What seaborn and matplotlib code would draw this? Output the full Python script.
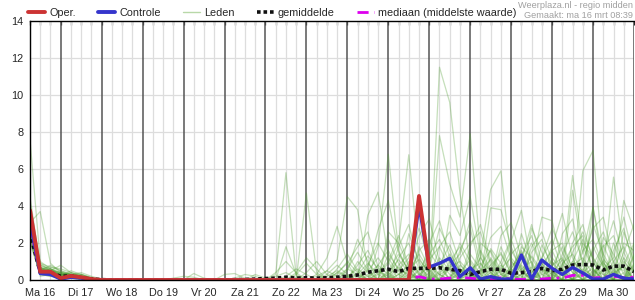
import numpy as np
import pandas as pd
import matplotlib
matplotlib.use("Agg")
import matplotlib.pyplot as plt
import seaborn as sns
from matplotlib.lines import Line2D

# ---------------- data (6-hourly steps, step 0 = ma 16 mrt 06:00) ----------------
N_STEPS = 60
DAY_LABELS = ["Ma 16", "Di 17", "Wo 18", "Do 19", "Vr 20", "Za 21", "Zo 22", "Ma 23",
              "Di 24", "Wo 25", "Do 26", "Vr 27", "Za 28", "Zo 29", "Ma 30"]

OPER = [3.77, 0.45, 0.45, 0.10, 0.22, 0.15, 0.05] + [0.0] * 30 + [0.0, 4.54, 0.68]

CONTROLE = ([3.2, 0.35, 0.30, 0.05, 0.15, 0.10, 0.02] + [0.0] * 31 + [4.04] +
            [0.70, 0.90, 1.17, 0.18, 0.66, 0.05, 0.18, 0.05, 0.05, 1.35, 0.05,
             1.08, 0.63, 0.30, 0.68, 0.38, 0.05, 0.05, 0.30, 0.10, 0.05])

MEAN = ([2.55, 0.40, 0.40, 0.20, 0.22, 0.12, 0.05, 0.02] + [0.0] * 12 +
        [0.02, 0.03, 0.05, 0.08, 0.10, 0.15, 0.10, 0.12, 0.10, 0.12, 0.15, 0.20,
         0.27, 0.42, 0.50, 0.58, 0.45, 0.63, 0.63, 0.63, 0.66, 0.58, 0.50, 0.30,
         0.45, 0.58, 0.58, 0.36, 0.40, 0.45, 0.63, 0.50, 0.58, 0.81, 0.84, 0.81,
         0.54, 0.75, 0.75, 0.45])

MEDIAN = ([2.9, 0.35, 0.35, 0.10, 0.15, 0.10, 0.03] + [0.0] * 30 +
          [0.05, 0.18, 0.05, 0.05, 0.10, 0.12, 0.10, 0.03, 0.05, 0.12, 0.05, 0.03,
           0.03, 0.05, 0.10, 0.10, 0.25, 0.25, 0.10, 0.15, 0.20, 0.12, 0.15])

# ensemble members: first 8 steps, then sparse {step: value} (other steps 0)
MEMBER_EARLY = [
    [7.6, 1.0, 0.6, 0.3, 0.2, 0.1, 0.05, 0], [3.1, 3.7, 0.9, 0.4, 0.3, 0.2, 0.1, 0],
    [4.0, 0.6, 0.5, 0.8, 0.4, 0.2, 0.1, 0], [2.2, 0.3, 0.2, 0.1, 0.2, 0.3, 0.1, 0],
    [2.8, 0.5, 0.8, 0.5, 0.3, 0.4, 0.2, 0.05], [3.0, 0.4, 0.3, 0.2, 0.5, 0.3, 0.1, 0],
    [3.5, 0.9, 0.7, 0.6, 0.4, 0.3, 0.15, 0], [2.5, 0.2, 0.3, 0.1, 0.1, 0.05, 0, 0],
    [4.5, 0.7, 0.4, 0.3, 0.3, 0.2, 0.1, 0], [3.2, 0.4, 0.6, 0.4, 0.2, 0.2, 0.05, 0],
    [2.0, 0.3, 0.2, 0.2, 0.1, 0.1, 0.05, 0], [3.8, 0.8, 0.5, 0.3, 0.4, 0.2, 0.1, 0],
    [2.6, 0.5, 0.4, 0.1, 0.2, 0.1, 0.05, 0], [3.3, 0.6, 0.7, 0.5, 0.3, 0.3, 0.1, 0],
    [2.9, 0.3, 0.4, 0.2, 0.3, 0.15, 0.05, 0], [4.2, 0.9, 0.5, 0.4, 0.2, 0.2, 0.1, 0],
    [2.4, 0.5, 0.3, 0.3, 0.2, 0.1, 0, 0], [3.6, 0.6, 0.6, 0.2, 0.3, 0.2, 0.1, 0],
    [2.7, 0.4, 0.5, 0.3, 0.2, 0.1, 0.05, 0], [3.4, 0.7, 0.3, 0.4, 0.3, 0.2, 0.1, 0],
    [3.0, 0.6, 0.4, 0.3, 0.2, 0.2, 0.1, 0], [2.3, 0.4, 0.3, 0.2, 0.2, 0.1, 0.05, 0],
    [3.9, 0.8, 0.6, 0.4, 0.3, 0.2, 0.1, 0], [2.1, 0.3, 0.3, 0.1, 0.1, 0.1, 0, 0],
    [3.7, 0.6, 0.5, 0.3, 0.3, 0.2, 0.05, 0], [2.6, 0.5, 0.4, 0.2, 0.2, 0.1, 0.05, 0],
    [3.1, 0.5, 0.6, 0.3, 0.2, 0.2, 0.1, 0], [2.4, 0.4, 0.3, 0.2, 0.15, 0.1, 0.05, 0],
    [3.3, 0.7, 0.5, 0.4, 0.3, 0.2, 0.1, 0], [2.9, 0.5, 0.4, 0.3, 0.2, 0.1, 0.05, 0],
]
MEMBER_LATE = [
    {24: 0.3, 25: 5.8, 26: 0.2, 33: 0.5, 34: 1.2, 35: 0.4, 40: 11.5, 41: 9.6, 42: 4.7, 43: 0.8,
     47: 0.6, 48: 1.5, 49: 0.3, 53: 1.0, 54: 2.2, 55: 0.5, 58: 0.8},
    {25: 1.8, 26: 0.3, 30: 0.6, 31: 1.4, 32: 0.5, 37: 2.5, 38: 1.0, 40: 7.8, 41: 5.2, 42: 3.4,
     43: 7.9, 44: 1.5, 45: 0.4, 50: 0.8, 51: 1.6, 52: 0.4, 55: 3.9, 56: 1.2, 57: 0.3},
    {27: 4.7, 28: 0.4, 32: 0.8, 33: 1.6, 34: 0.5, 38: 1.8, 39: 0.6, 44: 1.2, 45: 4.9, 46: 5.9,
     47: 1.0, 48: 0.4, 52: 0.6, 53: 5.65, 54: 1.8, 55: 0.6, 58: 1.2, 59: 0.5},
    {29: 0.5, 30: 1.1, 31: 4.5, 32: 3.8, 33: 0.6, 36: 0.8, 37: 1.4, 38: 0.3, 41: 3.5, 42: 2.4,
     43: 4.5, 44: 1.3, 49: 0.6, 50: 3.4, 51: 3.2, 52: 0.9, 56: 0.5, 57: 5.56, 58: 1.5, 59: 0.4},
    {28: 0.3, 29: 1.2, 30: 2.9, 31: 0.9, 34: 1.8, 35: 6.8, 36: 1.6, 37: 0.4, 40: 1.2, 41: 0.5,
     45: 3.9, 46: 3.8, 47: 1.8, 48: 0.5, 54: 5.9, 55: 7.0, 56: 1.0, 59: 0.8},
    {26: 0.4, 27: 1.2, 28: 0.6, 33: 3.5, 34: 4.75, 35: 1.2, 36: 0.3, 39: 1.4, 40: 2.2, 41: 0.9,
     46: 0.7, 47: 2.1, 48: 3.77, 49: 0.8, 53: 4.85, 54: 1.4, 55: 3.95, 56: 0.6, 58: 4.3, 59: 2.7},
    {31: 0.5, 32: 2.2, 33: 1.0, 35: 2.6, 36: 2.0, 37: 6.77, 38: 1.2, 39: 0.3, 42: 1.6, 43: 2.8,
     44: 0.5, 47: 0.4, 48: 1.3, 49: 2.4, 50: 0.6, 53: 1.5, 54: 2.6, 55: 1.2, 57: 2.0, 58: 0.6},
    {30: 0.4, 31: 0.9, 32: 1.8, 33: 2.6, 34: 0.7, 37: 0.6, 38: 2.4, 39: 3.3, 40: 1.0, 44: 0.8,
     45: 1.6, 46: 0.5, 50: 1.2, 51: 2.8, 52: 1.5, 53: 0.4, 56: 2.3, 57: 1.4, 58: 0.3},
    {33: 0.6, 34: 2.7, 35: 4.3, 36: 1.5, 37: 0.5, 40: 0.8, 41: 1.9, 42: 0.6, 46: 1.8, 47: 0.5,
     49: 1.5, 50: 2.2, 51: 0.5, 54: 1.0, 55: 2.8, 56: 3.4, 57: 1.0, 59: 1.3},
    {32: 0.4, 33: 1.3, 34: 0.6, 36: 1.8, 37: 3.0, 38: 0.8, 42: 1.2, 43: 2.0, 44: 2.6, 45: 0.8,
     48: 0.6, 49: 1.0, 52: 2.5, 53: 3.3, 54: 0.8, 57: 0.5, 58: 2.0, 59: 1.6},
    {34: 0.8, 35: 1.6, 36: 0.5, 39: 2.0, 40: 3.2, 41: 1.2, 44: 0.4, 45: 2.3, 46: 2.9, 47: 1.1,
     51: 0.7, 52: 1.8, 53: 0.6, 55: 0.8, 56: 1.9, 57: 0.6},
    {22: 0.3, 23: 0.1, 29: 0.3, 30: 0.8, 31: 0.3, 35: 2.2, 36: 0.9, 38: 0.5, 39: 1.5, 40: 0.7,
     43: 1.8, 44: 3.0, 45: 1.0, 48: 2.5, 49: 0.9, 53: 2.0, 54: 3.0, 55: 1.0, 58: 1.0, 59: 0.4},
    {36: 0.5, 37: 1.2, 38: 2.8, 39: 1.0, 41: 0.6, 42: 2.0, 43: 1.0, 47: 1.4, 48: 2.0, 49: 0.5,
     51: 1.2, 52: 0.5, 54: 1.6, 55: 2.2, 56: 0.8, 58: 2.6, 59: 1.0},
    {26: 0.3, 27: 0.9, 28: 0.3, 32: 1.0, 33: 0.4, 37: 1.0, 38: 0.4, 40: 1.8, 41: 2.6, 42: 0.9,
     45: 1.2, 46: 0.4, 49: 2.8, 50: 1.5, 51: 0.4, 56: 1.4, 57: 3.2, 58: 1.1},
    {34: 0.3, 35: 0.9, 36: 2.0, 37: 0.7, 42: 0.4, 43: 1.1, 44: 0.3, 46: 2.4, 47: 3.1, 48: 1.2,
     50: 0.5, 51: 1.8, 52: 3.6, 53: 1.2, 55: 0.4, 56: 1.0, 59: 1.9},
    {30: 0.2, 31: 0.6, 32: 0.3, 38: 0.6, 39: 0.9, 40: 0.3, 44: 1.6, 45: 0.6, 47: 0.8, 48: 1.1,
     49: 3.0, 50: 0.9, 53: 0.8, 54: 1.2, 55: 0.3, 57: 1.6, 58: 2.8, 59: 0.7},
    {35: 0.4, 36: 1.1, 37: 0.4, 40: 0.5, 41: 1.4, 42: 0.5, 44: 0.3, 45: 0.8, 46: 1.4, 47: 0.4,
     50: 1.9, 51: 0.8, 52: 1.2, 54: 0.5, 55: 1.6, 56: 2.6, 57: 0.9},
    {16: 0.35, 17: 0.1, 19: 0.3, 20: 0.35, 21: 0.1, 24: 0.2, 25: 0.4, 26: 0.1, 33: 0.3, 34: 0.8,
     35: 0.3, 39: 0.4, 40: 1.0, 41: 0.3, 43: 0.6, 44: 0.9, 45: 0.3, 48: 0.8, 49: 0.3, 52: 0.9,
     53: 1.4, 54: 0.4, 57: 0.8, 58: 0.5},
    {14: 0.1, 15: 0.2, 16: 0.15, 20: 0.1, 21: 0.3, 22: 0.2, 28: 0.2, 29: 0.5, 30: 0.2, 36: 0.3,
     37: 0.8, 38: 0.3, 42: 0.3, 43: 0.5, 46: 0.6, 47: 1.2, 48: 0.5, 51: 0.3, 52: 0.6, 55: 0.5,
     56: 0.3, 59: 0.6},
    {37: 0.3, 38: 0.7, 39: 0.2, 41: 0.2, 42: 0.6, 43: 0.3, 45: 0.2, 49: 0.4, 50: 0.9, 51: 0.3,
     54: 0.3, 55: 0.6, 58: 0.4},
    {27: 0.4, 28: 1.0, 29: 0.3, 33: 0.8, 34: 2.0, 35: 1.0, 38: 1.6, 39: 2.2, 40: 0.8, 43: 1.4,
     44: 0.6, 46: 1.0, 47: 2.2, 48: 0.7, 51: 1.6, 52: 2.0, 53: 0.6, 56: 1.8, 57: 2.4, 58: 0.8,
     59: 2.0},
    {24: 0.4, 25: 1.0, 26: 0.4, 31: 0.6, 32: 1.5, 33: 0.5, 36: 1.2, 37: 2.0, 38: 0.6, 41: 1.0,
     42: 1.8, 43: 0.5, 45: 0.6, 46: 1.5, 47: 0.3, 49: 1.8, 50: 2.6, 51: 1.0, 54: 2.0, 55: 1.2,
     56: 0.4, 58: 1.5, 59: 3.0},
    {30: 0.3, 31: 1.0, 32: 0.4, 35: 1.4, 36: 0.6, 37: 0.3, 39: 0.6, 40: 2.8, 41: 1.6, 42: 0.4,
     44: 2.0, 45: 1.5, 46: 0.3, 48: 1.8, 49: 1.2, 50: 0.3, 52: 1.4, 53: 2.6, 54: 1.0, 56: 0.6,
     57: 1.2, 58: 3.4, 59: 1.1},
    {34: 0.4, 35: 1.0, 36: 2.4, 37: 0.8, 40: 0.4, 41: 0.8, 42: 1.4, 43: 3.2, 44: 0.9, 47: 0.6,
     48: 1.6, 49: 0.4, 50: 1.2, 51: 2.2, 52: 0.6, 54: 0.8, 55: 3.0, 56: 1.4, 57: 0.4, 59: 0.9},
    {32: 0.3, 33: 0.9, 34: 0.3, 37: 0.5, 38: 1.4, 39: 0.5, 41: 0.7, 42: 1.0, 43: 0.4, 45: 1.7,
     46: 0.9, 48: 0.3, 49: 1.3, 50: 0.5, 52: 0.8, 53: 1.8, 54: 2.4, 55: 0.6, 57: 1.0, 58: 1.8,
     59: 0.5},
    {29: 0.2, 30: 0.5, 31: 0.2, 35: 0.5, 36: 1.4, 37: 0.5, 39: 1.1, 40: 1.8, 41: 0.6, 44: 0.5,
     45: 1.1, 46: 0.3, 48: 0.9, 49: 2.0, 50: 0.7, 52: 0.3, 53: 1.0, 54: 0.5, 56: 1.1, 57: 0.5,
     59: 1.4},
    {36: 0.3, 37: 0.6, 38: 1.1, 39: 0.4, 42: 0.8, 43: 0.3, 46: 0.5, 47: 1.6, 48: 0.6, 50: 0.4,
     51: 1.0, 52: 0.3, 55: 1.8, 56: 0.7, 57: 0.3, 58: 0.8},
    {31: 0.2, 32: 0.6, 33: 0.2, 38: 0.3, 39: 0.7, 40: 0.3, 43: 0.4, 44: 1.2, 45: 0.4, 48: 0.3,
     49: 0.7, 51: 0.4, 52: 1.1, 53: 0.4, 55: 0.3, 56: 0.9, 57: 0.3, 59: 0.5},
    {33: 0.2, 34: 0.5, 35: 0.2, 40: 0.3, 41: 0.6, 42: 0.2, 46: 0.3, 47: 0.6, 48: 0.2, 50: 0.3,
     51: 0.5, 53: 0.3, 54: 0.6, 55: 0.2, 57: 0.4, 58: 0.7},
    {25: 0.2, 26: 0.6, 27: 0.3, 30: 0.4, 31: 0.2, 35: 0.3, 36: 0.7, 37: 0.2, 42: 0.5, 43: 0.2,
     45: 0.4, 46: 0.8, 47: 0.3, 50: 0.6, 51: 0.3, 54: 0.4, 55: 0.9, 56: 0.3},
]

# ---------------- build tables ----------------
rows = []
for m, (early, late) in enumerate(zip(MEMBER_EARLY, MEMBER_LATE)):
    for s in range(N_STEPS):
        v = early[s] if s < len(early) else late.get(s, 0.0)
        rows.append((m, s, v))
members = pd.DataFrame(rows, columns=["member", "step", "value"])

def series(vals):
    return pd.DataFrame({"step": np.arange(len(vals)), "value": vals})

# ---------------- style ----------------
sns.set_style("white")
plt.rcParams["font.family"] = ["Liberation Sans", "DejaVu Sans"]
FS = 7.8

fig = plt.figure(figsize=(6.35, 3.0), dpi=100)
ax = fig.add_axes([30 / 635, 20 / 300, 604 / 635, 259 / 300])

# grid
for s in range(N_STEPS):
    if s % 4 == 3:
        ax.axvline(s, color="#555555", lw=1.1, zorder=1)
    else:
        ax.axvline(s, color="#dddddd", lw=0.9, zorder=0.5)
for yv in range(2, 14, 2):
    ax.axhline(yv, color="#dddddd", lw=0.9, zorder=0.5)

MEMBER_COLOR = "#4f9e30"
sns.lineplot(data=members, x="step", y="value", units="member", estimator=None,
             color=MEMBER_COLOR, alpha=0.33, lw=0.9, ax=ax, zorder=2, legend=False)
sns.lineplot(data=series(MEAN), x="step", y="value", color="#111111", lw=2.6,
             ax=ax, zorder=3, legend=False)
ax.lines[-1].set_linestyle((0, (1.0, 0.8)))
sns.lineplot(data=series(MEDIAN), x="step", y="value", color="#dd00ee", lw=2.0,
             ax=ax, zorder=3.5, legend=False)
ax.lines[-1].set_linestyle((0, (4, 2, 1, 2)))
sns.lineplot(data=series(CONTROLE), x="step", y="value", color="#3535cc", lw=2.4,
             ax=ax, zorder=4, legend=False)
sns.lineplot(data=series(OPER), x="step", y="value", color="#cc3333", lw=2.8,
             ax=ax, zorder=5, legend=False)

ax.set_xlim(0, N_STEPS - 1)
ax.set_ylim(0, 14)
ax.set_xlabel("")
ax.set_ylabel("")
ax.set_yticks(range(0, 15, 2))
ax.set_xticks(range(N_STEPS))
ax.set_xticklabels([DAY_LABELS[(s - 1) // 4] if s % 4 == 1 else "" for s in range(N_STEPS)])
ax.tick_params(axis="x", direction="out", length=3, width=0.9, color="black",
               labelsize=FS, pad=2.5)
ax.tick_params(axis="y", direction="out", length=3, width=0.9, color="black",
               labelsize=FS, pad=1.5)
for side in ["left", "bottom", "top"]:
    ax.spines[side].set_visible(True)
    ax.spines[side].set_color("black")
    ax.spines[side].set_linewidth(1.0)
    ax.spines[side].set_zorder(6)
ax.spines["right"].set_visible(False)

sec = ax.secondary_xaxis("top")
sec.set_xticks(range(N_STEPS))
sec.tick_params(direction="in", length=3, width=0.9, labeltop=False)
sec.spines["top"].set_visible(False)

# legend
handles = [
    Line2D([], [], color="#cc3333", lw=2.8),
    Line2D([], [], color="#3535cc", lw=2.8),
    Line2D([], [], color="#b8d8a8", lw=1.0),
    Line2D([], [], color="#111111", lw=2.6, ls=(0, (1.0, 0.8))),
    Line2D([], [], color="#dd00ee", lw=2.0, ls=(0, (4, 2, 1, 2))),
]
labels = ["Oper.", "Controle", "Leden", "gemiddelde", "mediaan (middelste waarde)"]
fig.legend(handles, labels, loc="center left", bbox_to_anchor=(28 / 635, 1 - 13 / 300),
           ncol=5, frameon=False, fontsize=FS, handlelength=1.6, handletextpad=0.35,
           columnspacing=2.05, borderaxespad=0, borderpad=0)

fig.text(633 / 635, 1 - 5 / 300, "Weerplaza.nl - regio midden", ha="right", va="center",
         fontsize=6.6, color="#a0a0a0")
fig.text(633 / 635, 1 - 15.5 / 300, "Gemaakt: ma 16 mrt 08:39", ha="right", va="center",
         fontsize=6.6, color="#a0a0a0")

fig.savefig("out.png", dpi=100)
